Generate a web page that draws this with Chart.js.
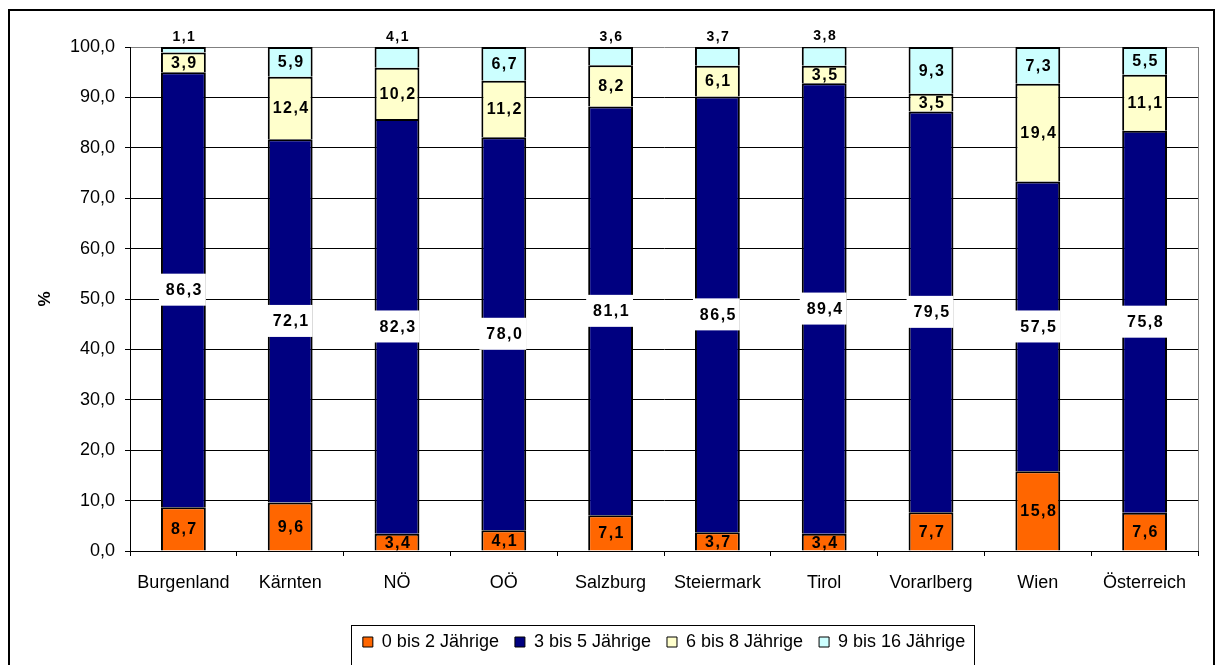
<!DOCTYPE html>
<html lang="de">
<head>
<meta charset="utf-8">
<title>Kinder nach Altersgruppen und Bundesland</title>
<script src="https://cdn.jsdelivr.net/npm/chart.js@4/dist/chart.umd.min.js"></script>
<style>
    html, body { margin: 0; padding: 0; background: #fff; }
    #wrap { width: 1217px; height: 665px; }
</style>
</head>
<body>
<div id="wrap"><canvas id="chart" width="1217" height="665"></canvas></div>
<script>
const categories = ['Burgenland', 'Kärnten', 'NÖ', 'OÖ', 'Salzburg', 'Steiermark', 'Tirol', 'Vorarlberg', 'Wien', 'Österreich'];
const seriesNames = ['0 bis 2 Jährige', '3 bis 5 Jährige', '6 bis 8 Jährige', '9 bis 16 Jährige'];

const age0to2 = [8.7, 9.6, 3.4, 4.1, 7.1, 3.7, 3.4, 7.7, 15.8, 7.6];
const age3to5 = [86.3, 72.1, 82.3, 78.0, 81.1, 86.5, 89.4, 79.5, 57.5, 75.8];
const age6to8 = [3.9, 12.4, 10.2, 11.2, 8.2, 6.1, 3.5, 3.5, 19.4, 11.1];
const age9to16 = [1.1, 5.9, 4.1, 6.7, 3.6, 3.7, 3.8, 9.3, 7.3, 5.5];

const yTickValues = [0, 10, 20, 30, 40, 50, 60, 70, 80, 90, 100];

const seriesColors = ['#ff6600', '#000080', '#ffffcc', '#ccffff'];
const FONT = 'Arial, "Liberation Sans", sans-serif';

// 86.3 -> "86,3"
const fmt = v => v.toFixed(1).replace('.', ',');

// values drawn into (or above) each segment, white box behind the navy ones
const barLabels = {
    id: 'barLabels',
    afterDatasetsDraw(chart) {
        const ctx = chart.ctx;
        ctx.save();
        ctx.textAlign = 'center';
        ctx.textBaseline = 'middle';
        chart.data.datasets.forEach((ds, i) => {
            const meta = chart.getDatasetMeta(i);
            meta.data.forEach((bar, j) => {
                const v = ds.data[j];
                let y = (bar.y + bar.base) / 2;
                let size = 16;
                if (i === 3 && v < 5) {
                    y = bar.y - 11;
                    size = 14;
                }
                if (i === 1) {
                    ctx.fillStyle = '#fff';
                    ctx.fillRect(bar.x - bar.width / 2 - 2, y - 16, bar.width + 2, 32);
                }
                ctx.font = `bold ${size}px ${FONT}`;
                ctx.letterSpacing = '1.5px';
                ctx.fillStyle = '#000';
                ctx.fillText(fmt(v), bar.x + 1, y + 1);
            });
        });
        ctx.restore();
    }
};

// outer frame, grey plot border on the right, box round the legend
const frames = {
    id: 'frames',
    afterDraw(chart) {
        const ctx = chart.ctx;
        const area = chart.chartArea;
        ctx.save();
        ctx.strokeStyle = '#808080';
        ctx.lineWidth = 1;
        ctx.beginPath();
        ctx.moveTo(area.right + 0.5, area.top);
        ctx.lineTo(area.right + 0.5, area.bottom);
        ctx.stroke();

        const boxes = chart.legend.legendHitBoxes;
        if (boxes && boxes.length) {
            const first = boxes[0];
            const last = boxes[boxes.length - 1];
            const left = first.left - 12;
            const right = last.left + last.width + 9;
            const top = first.top + first.height / 2 - 17;
            ctx.strokeStyle = '#000';
            ctx.strokeRect(Math.round(left) + 0.5, Math.round(top) + 0.5, Math.round(right - left), 60);
        }

        ctx.lineWidth = 2;
        ctx.strokeStyle = '#000';
        ctx.strokeRect(9, 10, 1205, 700);
        ctx.restore();
    }
};

const seriesData = [age0to2, age3to5, age6to8, age9to16];

const datasets = seriesNames.map((name, i) => ({
    label: name,
    data: seriesData[i],
    backgroundColor: seriesColors[i],
    borderColor: '#000',
    borderWidth: 2,
    barPercentage: 0.42,
    categoryPercentage: 1
}));

new Chart(document.getElementById('chart').getContext('2d'), {
    type: 'bar',
    data: { labels: categories, datasets },
    plugins: [barLabels, frames],
    options: {
        responsive: false,
        animation: false,
        layout: {
            padding: { left: 30, right: 19, top: 47, bottom: 4 }
        },
        plugins: {
            legend: {
                position: 'bottom',
                fullSize: false,
                labels: {
                    boxWidth: 10,
                    boxHeight: 10,
                    padding: 16,
                    color: '#000',
                    font: { family: FONT, size: 18 },
                    generateLabels(chart) {
                        return chart.data.datasets.map((ds, i) => ({
                            text: ds.label,
                            fillStyle: ds.backgroundColor,
                            strokeStyle: '#000',
                            lineWidth: 1,
                            fontColor: '#000',
                            datasetIndex: i
                        }));
                    }
                }
            },
            tooltip: { enabled: false }
        },
        scales: {
            x: {
                stacked: true,
                afterFit: s => { s.height = 66; },
                grid: {
                    display: true,
                    drawOnChartArea: false,
                    tickLength: 5,
                    color: '#000'
                },
                border: { color: '#000', width: 1 },
                ticks: {
                    color: '#000',
                    padding: 16,
                    maxRotation: 0,
                    font: { family: FONT, size: 18 }
                }
            },
            y: {
                stacked: true,
                min: 0,
                max: 100,
                afterFit: s => { s.width = 100; },
                afterBuildTicks: s => { s.ticks = yTickValues.map(v => ({ value: v })); },
                grid: {
                    tickLength: 5,
                    color: c => (c.tick && c.tick.value === 100 ? '#808080' : '#000'),
                    tickColor: '#000'
                },
                border: { color: '#000', width: 1 },
                title: {
                    display: true,
                    text: '%',
                    color: '#000',
                    padding: { top: 5, bottom: 0 },
                    font: { family: FONT, size: 17, weight: 'bold' }
                },
                ticks: {
                    color: '#000',
                    padding: 10,
                    font: { family: FONT, size: 18 },
                    callback: v => fmt(v)
                }
            }
        }
    }
});
</script>
</body>
</html>
